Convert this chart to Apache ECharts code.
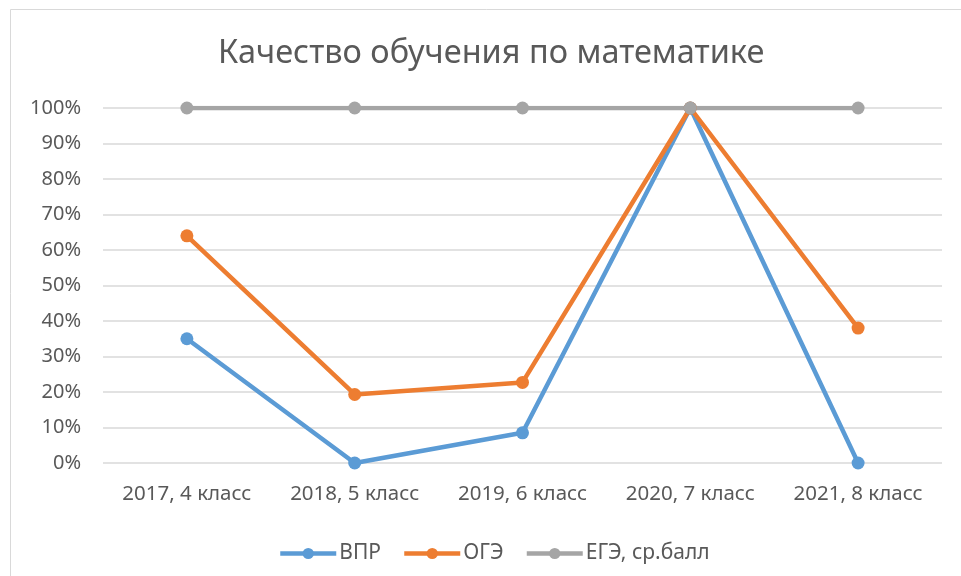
<!DOCTYPE html>
<html>
<head>
<meta charset="utf-8">
<script src="https://cdn.jsdelivr.net/npm/echarts@6/dist/echarts.min.js"></script>
<style>
  html, body { margin: 0; padding: 0; background: #fff; }
  #chart { width: 961px; height: 576px; }
</style>
</head>
<body>
<div id="chart"></div>
<script>
const categories = ['2017, 4 класс', '2018, 5 класс', '2019, 6 класс', '2020, 7 класс', '2021, 8 класс']
const vpr = [35, 0, 8.5, 100, 0]
const oge = [64, 19.3, 22.7, 100, 38]
const ege = [100, 100, 100, 100, 100]

const font = "'Noto Sans', sans-serif"
const textColor = '#595959'

function lineSeries(name, data, color) {
  return {
    name: name,
    type: 'line',
    data: data,
    symbol: 'circle',
    symbolSize: 13,
    lineStyle: { width: 4.5, color: color },
    itemStyle: { color: color },
    emphasis: { disabled: true }
  }
}

const chart = echarts.init(document.getElementById('chart'))
chart.setOption({
  animation: false,
  textStyle: { fontFamily: font },
  graphic: [{
    type: 'rect',
    shape: { x: 10.5, y: 9.5, width: 970, height: 600 },
    style: { fill: 'none', stroke: '#d9d9d9', lineWidth: 1 },
    silent: true
  }],
  title: {
    text: 'Качество обучения по математике',
    left: 218,
    top: 37,
    padding: 0,
    textStyle: { fontFamily: font, fontSize: 32.5, fontWeight: 'normal', color: textColor }
  },
  legend: {
    bottom: 12,
    left: 278,
    padding: 0,
    itemWidth: 56,
    itemHeight: 14,
    itemGap: 21,
    lineStyle: { width: 4.5 },
    textStyle: { fontFamily: font, fontSize: 21, color: textColor, padding: [0, 0, 0, -2] },
    data: ['ВПР', 'ОГЭ', 'ЕГЭ, ср.балл']
  },
  grid: { left: 103, right: 19, top: 108, bottom: 113 },
  xAxis: {
    type: 'category',
    data: categories,
    boundaryGap: true,
    axisLine: { show: false },
    axisTick: { show: false },
    axisLabel: { interval: 0, fontFamily: font, fontSize: 20.5, color: textColor, margin: 21 }
  },
  yAxis: {
    type: 'value',
    min: 0,
    max: 100,
    interval: 10,
    axisLine: { show: false },
    axisTick: { show: false },
    axisLabel: { fontFamily: font, fontSize: 20, color: textColor, margin: 22, formatter: '{value}%' },
    splitLine: { lineStyle: { color: '#d9d9d9', width: 1.5 } }
  },
  series: [
    lineSeries('ВПР', vpr, '#5b9bd5'),
    lineSeries('ОГЭ', oge, '#ed7d31'),
    lineSeries('ЕГЭ, ср.балл', ege, '#a5a5a5')
  ]
})
</script>
</body>
</html>
